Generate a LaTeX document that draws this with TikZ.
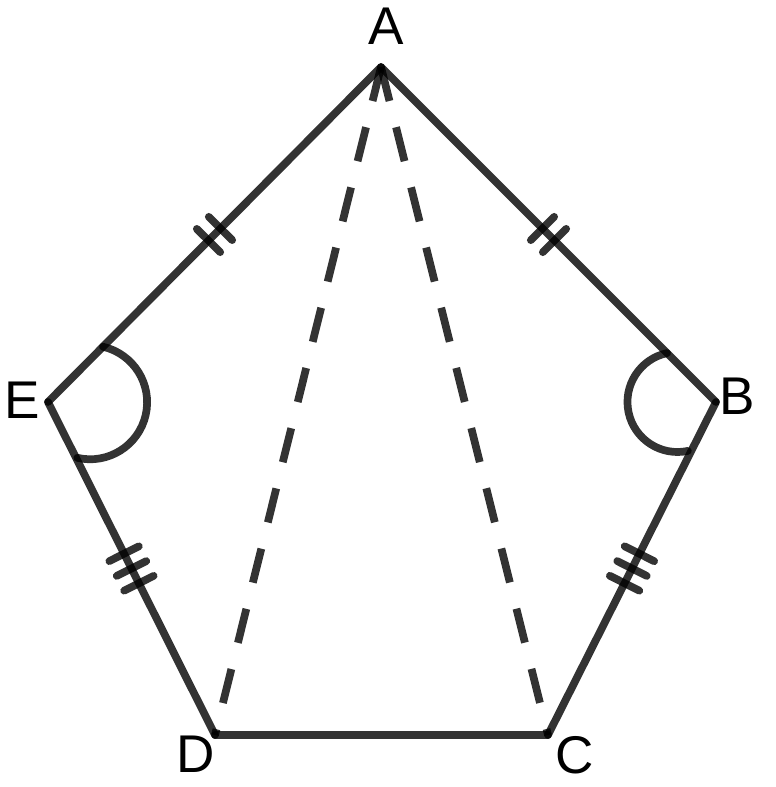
\documentclass[tikz,border=0pt]{standalone}
\usepackage{fontspec}
\setmainfont{Liberation Sans}
\usetikzlibrary{calc}
\begin{document}
\begin{tikzpicture}[x=0.01cm,y=0.01cm,
  edge/.style={line width=0.077cm, draw=black, draw opacity=0.8, line cap=round},
  dashedge/.style={line width=0.077cm, draw=black, draw opacity=0.8, line cap=butt, dash pattern=on 0.35cm off 0.27cm},
  lbl/.style={inner sep=0pt, font=\fontsize{15.1}{18}\selectfont}]
\useasboundingbox (0,0) rectangle (776,787);
\coordinate (A) at (381,720);
\coordinate (B) at (716,385);
\coordinate (C) at (548,52);
\coordinate (D) at (215,52);
\coordinate (E) at (48,385);
% sides
\draw[edge] (A) -- (B);
\draw[edge] (B) -- (C);
\draw[edge] (C) -- (D);
\draw[edge] (D) -- (E);
\draw[edge] (E) -- (A);
% diagonals
\draw[dashedge] (A) -- (D);
\draw[dashedge] (A) -- (C);
% tick marks
\coordinate (mAE) at ($(A)!0.5!(E)$);
\coordinate (mAB) at ($(A)!0.5!(B)$);
\coordinate (mED) at ($(E)!0.5!(D)$);
\coordinate (mBC) at ($(B)!0.5!(C)$);
\foreach \d in {-0.085cm,0.085cm}{
  \coordinate (t) at ($(mAE)!\d!(E)$);
  \draw[edge] ($(t)!0.165cm!90:(E)$) -- ($(t)!0.165cm!-90:(E)$);
  \coordinate (t) at ($(mAB)!\d!(B)$);
  \draw[edge] ($(t)!0.165cm!90:(B)$) -- ($(t)!0.165cm!-90:(B)$);
}
\foreach \d in {-0.165cm,0cm,0.165cm}{
  \coordinate (t) at ($(mED)!\d!(D)$);
  \draw[edge] ($(t)!0.165cm!90:(D)$) -- ($(t)!0.165cm!-90:(D)$);
  \coordinate (t) at ($(mBC)!\d!(C)$);
  \draw[edge] ($(t)!0.165cm!90:(C)$) -- ($(t)!0.165cm!-90:(C)$);
}
% angle arcs
\draw[edge] ($(E)!0.165!(A)$) arc[start angle=77, end angle=-103, radius=57];
\draw[edge] ($(B)!0.146!(A)$) arc[start angle=102, end angle=282, radius=50];
% labels
\node[lbl] (lA) at (386,761) {A};
\node[lbl] (lB) at (737,391) {B};
\node[lbl] (lC) at (575,32) {C};
\node[lbl] (lD) at (196,33) {D};
\node[lbl] (lE) at (22,387) {E};
\end{tikzpicture}
\end{document}
